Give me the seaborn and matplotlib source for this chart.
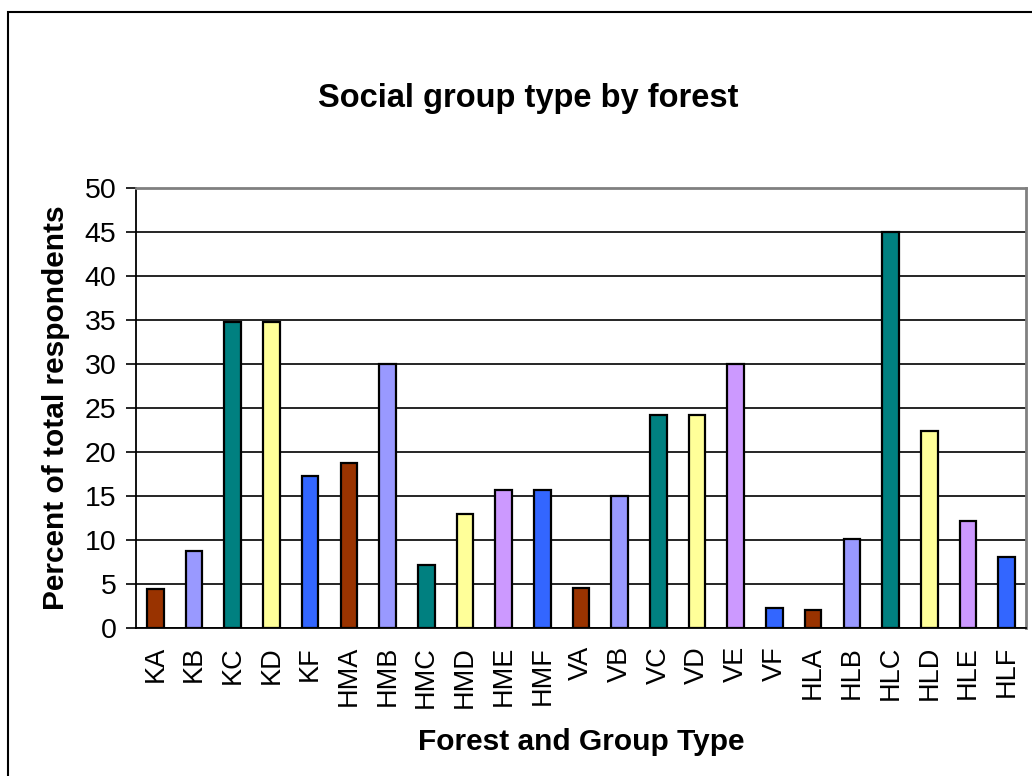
import matplotlib
matplotlib.use("Agg")
import matplotlib.pyplot as plt
from matplotlib.patches import Rectangle
import seaborn as sns
import numpy as np

# Forest / group-type codes and percent of respondents
groups = ["KA", "KB", "KC", "KD", "KF",
          "HMA", "HMB", "HMC", "HMD", "HME", "HMF",
          "VA", "VB", "VC", "VD", "VE", "VF",
          "HLA", "HLB", "HLC", "HLD", "HLE", "HLF"]
percent = [4.4, 8.75, 34.8, 34.8, 17.3,
           18.7, 30.0, 7.2, 13.0, 15.7, 15.7,
           4.6, 15.0, 24.2, 24.2, 30.0, 2.3,
           2.05, 10.1, 45.0, 22.4, 12.2, 8.1]

# One colour per group type (last letter of the code)
type_colors = {"A": "#993300", "B": "#9999FF", "C": "#008080",
               "D": "#FFFF99", "E": "#CC99FF", "F": "#3366FF"}
bar_colors = [type_colors[g[-1]] for g in groups]

sns.set_style("white")
plt.rcParams["font.family"] = ["Liberation Sans", "DejaVu Sans"]
plt.rcParams["text.color"] = "black"
plt.rcParams["axes.labelcolor"] = "black"
plt.rcParams["xtick.color"] = "black"
plt.rcParams["ytick.color"] = "black"

fig = plt.figure(figsize=(10.32, 7.76), dpi=100)
ax = fig.add_axes([136 / 1032, 1 - 628 / 776, (1026 - 136) / 1032, (628 - 188) / 776])

sns.barplot(x=groups, y=percent, hue=groups, palette=bar_colors, legend=False,
            width=0.43, edgecolor="black", linewidth=1.6, saturation=1, ax=ax, zorder=3)

ax.set_ylim(0, 50)
ax.set_xlim(-0.5, len(groups) - 0.5)
ax.set_yticks(np.arange(0, 51, 5))
ax.yaxis.grid(True, color="black", linewidth=1.2, zorder=0)
ax.set_axisbelow(True)

# Category ticks sit between bars
ax.set_xticks(np.arange(len(groups)))
ax.set_xticklabels(groups, rotation=90, fontsize=19.5)
ax.tick_params(axis="x", length=0, pad=13)
ax.set_xticks(np.arange(-0.5, len(groups) + 0.5, 1), minor=True)
ax.tick_params(axis="x", which="minor", length=7, width=1.2, color="black", direction="out")
ax.tick_params(axis="y", labelsize=20.5, length=7, width=1.2, color="black",
               direction="out", left=True, pad=7)

for side in ["left", "bottom"]:
    ax.spines[side].set_color("black")
    ax.spines[side].set_linewidth(1.3)
for side in ["top", "right"]:
    ax.spines[side].set_visible(True)
    ax.spines[side].set_color("#808080")
    ax.spines[side].set_linewidth(2)

ax.set_xlabel("Forest and Group Type", fontsize=21.5, fontweight="bold")
ax.set_ylabel("Percent of total respondents", fontsize=21.5, fontweight="bold")
ax.xaxis.set_label_coords(0.5, -0.228)
ax.yaxis.set_label_coords(-0.0745, 0.5)

fig.text(528 / 1032, 1 - 98 / 776, "Social group type by forest",
         ha="center", va="center", fontsize=23.5, fontweight="bold")

# Outer chart frame
fig.patches.append(Rectangle((8 / 1032, -0.05), 1.1, 1 - 12 / 776 + 0.05,
                             transform=fig.transFigure, fill=False,
                             edgecolor="black", linewidth=1.5))

fig.savefig("out.png", dpi=100)
